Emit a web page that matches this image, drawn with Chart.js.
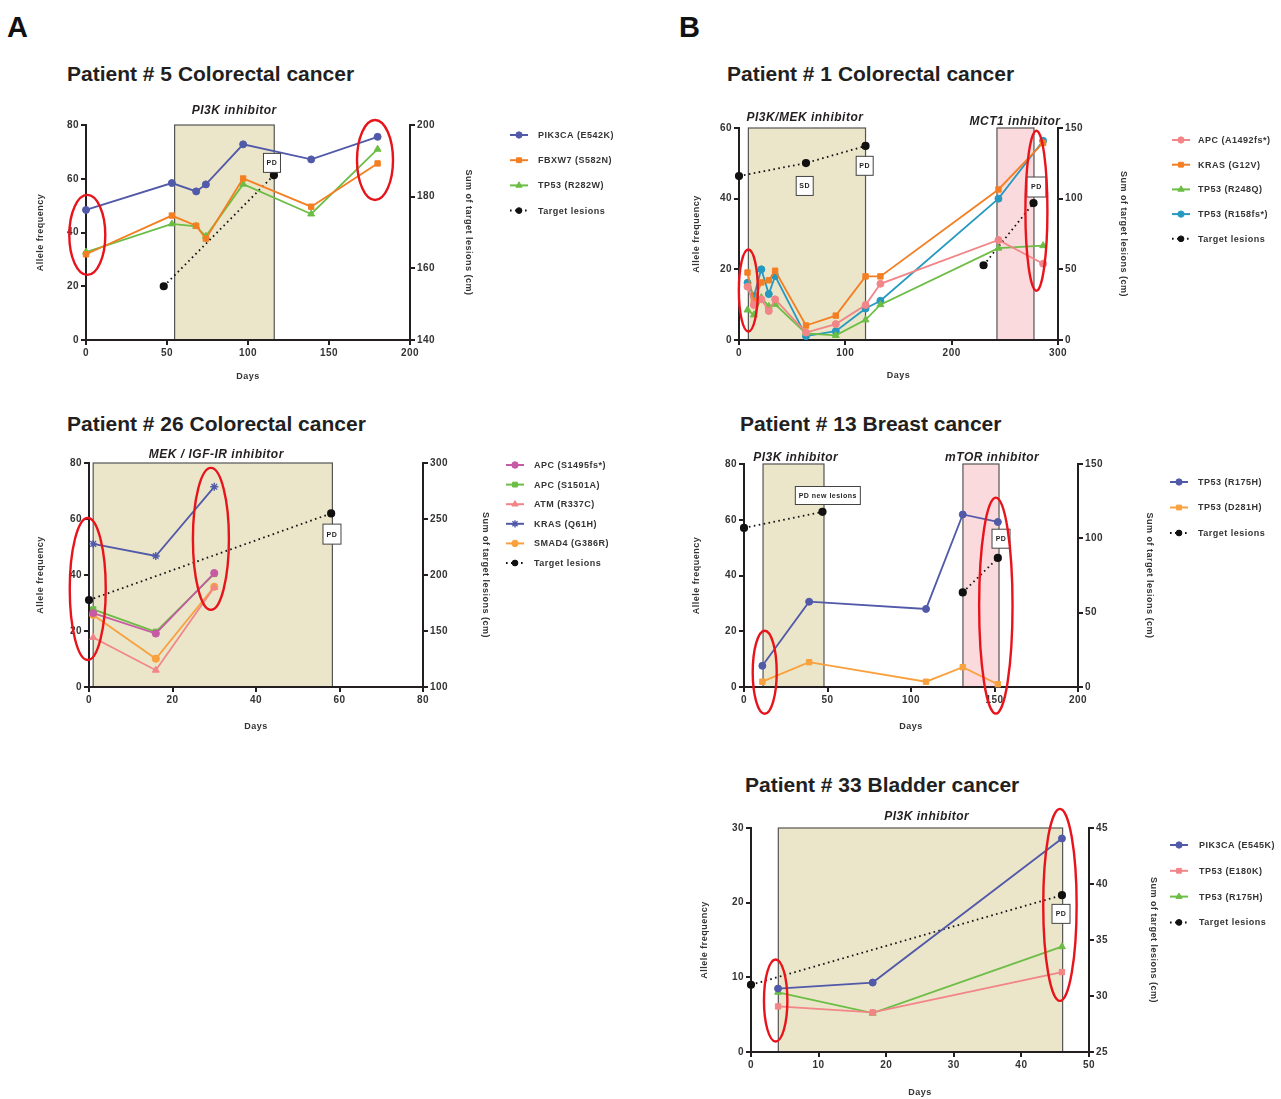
<!DOCTYPE html>
<html><head><meta charset="utf-8">
<script src="https://cdn.jsdelivr.net/npm/chart.js@4.4.1/dist/chart.umd.min.js"></script>
<style>
html,body{margin:0;padding:0;background:#fff;}
#page{position:relative;width:1281px;height:1099px;overflow:hidden;font-family:"Liberation Sans",Arial,Helvetica,sans-serif;}
.panel{position:absolute;font-weight:bold;font-size:29px;line-height:30px;color:#111;}
.title{position:absolute;font-weight:bold;font-size:21px;line-height:20px;color:#231f20;white-space:nowrap;}
canvas{position:absolute;}
</style></head><body><div id="page">
<div class="panel" style="left:7px;top:12px">A</div>
<div class="panel" style="left:679px;top:12px">B</div>
<div class="title" style="left:67px;top:64px">Patient # 5 Colorectal cancer</div>
<div class="title" style="left:67px;top:414px">Patient # 26 Colorectal cancer</div>
<div class="title" style="left:727px;top:64px">Patient # 1 Colorectal cancer</div>
<div class="title" style="left:740px;top:414px">Patient # 13 Breast cancer</div>
<div class="title" style="left:745px;top:775px">Patient # 33 Bladder cancer</div>
</div>
<script>
// ---------------- DATA ----------------
// Patient 5
const p5Days = [0, 53, 68, 74, 97, 139, 180];
const p5PIK3CA = [48.4, 58.4, 55.3, 57.9, 72.8, 67.2, 75.6];
const p5FBXW7 = [31.9, 46.3, 42.5, 37.7, 60.1, 49.6, 65.7];
const p5TP53 = [32.7, 43.2, 42.3, 38.6, 58.0, 46.9, 71.0];
const p5TargetDays = [48, 116];
const p5Target = [155, 186];
const p5Labels = ['PIK3CA (E542K)', 'FBXW7 (S582N)', 'TP53 (R282W)', 'Target lesions'];
const p5XTicks = [0, 50, 100, 150, 200];
const p5YTicks = [0, 20, 40, 60, 80];
const p5Y2Ticks = [140, 160, 180, 200];

// Patient 26
const p26Days = [1, 16, 30];
const p26APC1495 = [26.4, 19.1, 40.7];
const p26APC1501 = [27.7, 19.7, 40.4];
const p26ATM = [17.7, 6.0, 35.6];
const p26KRAS = [51.1, 46.8, 71.5];
const p26SMAD4 = [25.7, 10.1, 35.8];
const p26TargetDays = [0, 58];
const p26Target = [177.6, 255];
const p26Labels = ['APC (S1495fs*)', 'APC (S1501A)', 'ATM (R337C)', 'KRAS (Q61H)', 'SMAD4 (G386R)', 'Target lesions'];
const p26XTicks = [0, 20, 40, 60, 80];
const p26YTicks = [0, 20, 40, 60, 80];
const p26Y2Ticks = [100, 150, 200, 250, 300];

// Patient 1
const p1Days = [8, 14, 21, 28, 34, 63, 91, 119, 133, 244, 286];
const p1APC = [15.1, 9.9, 11.5, 8.2, 11.5, 2.1, 4.5, 9.9, 15.9, 28.3, 21.6];
const p1KRAS = [19.1, 10.9, 16.3, 16.9, 19.6, 4.1, 6.9, 18.0, 18.0, 42.6, 55.8];
const p1TP53a = [8.5, 7.1, 12.0, 9.5, 10.1, 1.9, 1.3, 5.7, 10.0, 26.0, 26.7];
const p1TP53b = [16.2, 12.4, 20.0, 13.0, 18.1, 1.1, 2.5, 8.9, 11.1, 40.0, 56.4];
const p1TargetDays = [0, 63, 119, 175, 230, 277];
const p1Target = [116, 125.2, 137.3, null, 52.9, 96.9];
const p1Labels = ['APC (A1492fs*)', 'KRAS (G12V)', 'TP53 (R248Q)', 'TP53 (R158fs*)', 'Target lesions'];
const p1XTicks = [0, 100, 200, 300];
const p1YTicks = [0, 20, 40, 60];
const p1Y2Ticks = [0, 50, 100, 150];

// Patient 13
const p13Days = [11, 39, 109, 131, 152];
const p13R175H = [7.6, 30.6, 28.0, 61.9, 59.2];
const p13D281H = [1.9, 8.9, 1.9, 7.1, 1.0];
const p13TargetDays = [0, 47, 90, 131, 152];
const p13Target = [107, 117.8, null, 63.6, 86.8];
const p13Labels = ['TP53 (R175H)', 'TP53 (D281H)', 'Target lesions'];
const p13XTicks = [0, 50, 100, 150, 200];
const p13YTicks = [0, 20, 40, 60, 80];
const p13Y2Ticks = [0, 50, 100, 150];

// Patient 33
const p33Days = [4, 18, 46];
const p33PIK3CA = [8.5, 9.3, 28.6];
const p33E180K = [6.1, 5.3, 10.7];
const p33R175H = [8.0, 5.2, 14.1];
const p33TargetDays = [0, 46];
const p33Target = [31.0, 39.0];
const p33Labels = ['PIK3CA (E545K)', 'TP53 (E180K)', 'TP53 (R175H)', 'Target lesions'];
const p33XTicks = [0, 10, 20, 30, 40, 50];
const p33YTicks = [0, 10, 20, 30];
const p33Y2Ticks = [25, 30, 35, 40, 45];

// ---------------- STYLE / HELPERS ----------------
const FONT = '"Liberation Sans", Arial, Helvetica, sans-serif';
Chart.defaults.font.family = FONT;
Chart.defaults.color = '#333';
const BEIGE = '#ebe5c9', PINK = '#fbdadd';
const C = {blue:'#5159a9', orange:'#f47f22', lorange:'#f8a13e', green:'#6cbd45', pink:'#f28587',
           magenta:'#c75aa5', teal:'#2599bf', black:'#111'};

function series(label, days, vals, color, style, r) {
  return {label, data: days.map((d, i) => ({x: d, y: vals[i]})), borderColor: color, backgroundColor: color,
    pointStyle: style, pointRadius: r, pointHoverRadius: r, pointBorderWidth: style === 'star' ? 1.4 : 1,
    borderWidth: 1.8, yAxisID: 'y', clip: false, tension: 0};
}
function target(days, vals) {
  return {label: 'Target lesions', data: days.map((d, i) => ({x: d, y: vals[i]})), borderColor: C.black,
    backgroundColor: C.black, borderDash: [1.6, 3.4], borderWidth: 1.8, pointStyle: 'circle', pointRadius: 3.2,
    pointHoverRadius: 3.2, yAxisID: 'y1', spanGaps: false, clip: false};
}

const figPlugin = {
  id: 'fig',
  beforeDraw(chart, args, o) {
    const {ctx, chartArea: a, scales: {x}} = chart;
    ctx.letterSpacing = '0.5px';
    ctx.save();
    (o.shades || []).forEach(s => {
      const x1 = x.getPixelForValue(s.from), x2 = x.getPixelForValue(s.to);
      ctx.fillStyle = s.color;
      ctx.fillRect(x1, a.top, x2 - x1, a.bottom - a.top);
      ctx.strokeStyle = '#555'; ctx.lineWidth = 1.2;
      ctx.strokeRect(x1, a.top, x2 - x1, a.bottom - a.top);
    });
    ctx.fillStyle = '#231f20';
    ctx.font = 'italic bold 12px ' + FONT;
    ctx.textAlign = 'center'; ctx.textBaseline = 'middle';
    (o.labels || []).forEach(l => ctx.fillText(l.text, x.getPixelForValue(l.day), a.top - l.up));
    ctx.restore();
  },
  afterDraw(chart, args, o) {
    const {ctx, scales: {x, y}} = chart;
    const g = o.g;
    ctx.save();
    ctx.letterSpacing = '0.5px';
    (o.boxes || []).forEach(b => {
      const cx = x.getPixelForValue(b.day), cy = y.getPixelForValue(b.val);
      ctx.fillStyle = '#fff'; ctx.strokeStyle = '#444'; ctx.lineWidth = 1;
      ctx.fillRect(cx - b.w / 2, cy - b.h / 2, b.w, b.h);
      ctx.strokeRect(cx - b.w / 2, cy - b.h / 2, b.w, b.h);
      ctx.fillStyle = '#231f20'; ctx.font = 'bold 7px ' + FONT;
      ctx.textAlign = 'center'; ctx.textBaseline = 'middle';
      ctx.fillText(b.text, cx, cy + 0.5);
    });
    ctx.strokeStyle = '#e8141c'; ctx.lineWidth = 2.4;
    (o.rings || []).forEach(r => {
      ctx.beginPath();
      ctx.ellipse(x.getPixelForValue(r.day), y.getPixelForValue(r.val), r.rx, r.ry, 0, 0, Math.PI * 2);
      ctx.stroke();
    });
    const lg = o.legend;
    chart.data.datasets.forEach((ds, i) => {
      const yy = lg.y + i * lg.dy - g.cTop, x0 = lg.x - g.cLeft;
      ctx.strokeStyle = ds.borderColor; ctx.fillStyle = ds.backgroundColor;
      ctx.lineWidth = 2; ctx.setLineDash(ds.borderDash ? [1.6, 3.4] : []);
      ctx.beginPath(); ctx.moveTo(x0, yy); ctx.lineTo(x0 + 18, yy); ctx.stroke();
      ctx.setLineDash([]);
      ctx.lineWidth = ds.pointBorderWidth || 1;
      Chart.helpers.drawPoint(ctx, {pointStyle: ds.pointStyle, radius: ds.pointRadius * 0.9, rotation: 0,
        borderWidth: ds.pointBorderWidth || 1}, x0 + 9, yy);
      ctx.fillStyle = '#333'; ctx.font = 'bold 9px ' + FONT;
      ctx.textAlign = 'left'; ctx.textBaseline = 'middle';
      ctx.fillText(ds.label, lg.tx - g.cLeft, yy + 0.5);
    });
    ctx.restore();
  }
};

function build(g, ax, datasets, extra) {
  const cv = document.createElement('canvas');
  const W = g.cRight - g.cLeft, H = g.cBottom - g.cTop;
  cv.width = W; cv.height = H;
  cv.style.left = g.cLeft + 'px'; cv.style.top = g.cTop + 'px';
  cv.style.width = W + 'px'; cv.style.height = H + 'px';
  document.getElementById('page').appendChild(cv);
  const lh = 9 * 1.2;
  const leftW = g.L - g.cLeft;
  const rightW = g.RT - g.R + lh / 2 + 3;
  const xH = 50;
  const tickFont = {size: 10, weight: 'bold', family: FONT};
  const titleFont = {size: 9, weight: 'bold', family: FONT, lineHeight: 1.2};
  const common = (ticks) => ({
    type: 'linear',
    afterBuildTicks: s => { s.ticks = ticks.map(v => ({value: v})); },
    border: {display: true, color: '#231f20', width: 2},
    grid: {drawOnChartArea: false, drawTicks: true, tickLength: 5, color: '#231f20', lineWidth: 2},
    ticks: {font: tickFont, color: '#333', padding: 2, autoSkip: false, maxRotation: 0}
  });
  new Chart(cv, {
    type: 'line',
    data: {datasets},
    options: {
      responsive: false, animation: false, devicePixelRatio: 1,
      events: [],
      layout: {padding: {left: 0, top: g.T - g.cTop, right: g.cRight - (g.R + rightW), bottom: g.cBottom - (g.B + xH)}},
      plugins: {legend: {display: false}, tooltip: {enabled: false}, fig: Object.assign({g}, extra)},
      scales: {
        x: Object.assign(common(ax.x), {min: ax.x[0], max: ax.x[ax.x.length - 1], position: 'bottom',
          afterFit: s => { s.height = xH; },
          title: {display: true, text: 'Days', font: titleFont, color: '#333',
            padding: {top: 0, bottom: g.B + xH - g.DT - lh / 2}}}),
        y: Object.assign(common(ax.y), {min: ax.y[0], max: ax.y[ax.y.length - 1], position: 'left',
          afterFit: s => { s.width = leftW; },
          title: {display: true, text: 'Allele frequency', font: titleFont, color: '#333',
            padding: {top: g.LT - g.cLeft - lh / 2, bottom: 0}}}),
        y1: Object.assign(common(ax.y2), {min: ax.y2[0], max: ax.y2[ax.y2.length - 1], position: 'right',
          afterFit: s => { s.width = rightW; },
          title: {display: true, text: 'Sum of target lesions (cm)', font: titleFont, color: '#333',
            padding: {top: 3, bottom: 0}}})
      }
    },
    plugins: [figPlugin]
  });
}

// ---------------- CHARTS ----------------
build({L: 86, R: 410, T: 125, B: 340, LT: 41, RT: 468, DT: 377, cLeft: 26, cRight: 660, cTop: 80, cBottom: 395},
  {x: p5XTicks, y: p5YTicks, y2: p5Y2Ticks},
  [series(p5Labels[0], p5Days, p5PIK3CA, C.blue, 'circle', 3.5),
   series(p5Labels[1], p5Days, p5FBXW7, C.orange, 'rect', 3.8),
   series(p5Labels[2], p5Days, p5TP53, C.green, 'triangle', 4),
   target(p5TargetDays, p5Target)],
  {shades: [{from: 54.7, to: 116.2, color: BEIGE}],
   labels: [{text: 'PI3K inhibitor', day: 91.5, up: 14}],
   boxes: [{day: 114.8, val: 65.9, w: 17, h: 19, text: 'PD'}],
   rings: [{day: 0.8, val: 39.1, rx: 18, ry: 40}, {day: 178.4, val: 67.0, rx: 18, ry: 40}],
   legend: {x: 510, y: 135, dy: 25.2, tx: 538}});

build({L: 89, R: 423, T: 463, B: 687, LT: 41, RT: 485, DT: 727, cLeft: 29, cRight: 660, cTop: 418, cBottom: 742},
  {x: p26XTicks, y: p26YTicks, y2: p26Y2Ticks},
  [series(p26Labels[0], p26Days, p26APC1495, C.magenta, 'circle', 3.6),
   series(p26Labels[1], p26Days, p26APC1501, C.green, 'rect', 3.8),
   series(p26Labels[2], p26Days, p26ATM, C.pink, 'triangle', 4),
   series(p26Labels[3], p26Days, p26KRAS, C.blue, 'star', 4),
   series(p26Labels[4], p26Days, p26SMAD4, C.lorange, 'circle', 3.6),
   target(p26TargetDays, p26Target)],
  {shades: [{from: 1, to: 58.3, color: BEIGE}],
   labels: [{text: 'MEK / IGF-IR inhibitor', day: 30.5, up: 8}],
   boxes: [{day: 58.2, val: 54.6, w: 18, h: 20, text: 'PD'}],
   rings: [{day: -0.3, val: 35.0, rx: 18, ry: 71}, {day: 29.2, val: 52.9, rx: 18, ry: 71}],
   legend: {x: 506, y: 465, dy: 19.6, tx: 534}});

build({L: 739, R: 1058, T: 128, B: 340, LT: 697, RT: 1123, DT: 376, cLeft: 679, cRight: 1281, cTop: 83, cBottom: 395},
  {x: p1XTicks, y: p1YTicks, y2: p1Y2Ticks},
  [series(p1Labels[0], p1Days, p1APC, C.pink, 'circle', 3.5),
   series(p1Labels[1], p1Days, p1KRAS, C.orange, 'rect', 3.8),
   series(p1Labels[2], p1Days, p1TP53a, C.green, 'triangle', 4),
   series(p1Labels[3], p1Days, p1TP53b, C.teal, 'circle', 3.5),
   target(p1TargetDays, p1Target)],
  {shades: [{from: 8.8, to: 119, color: BEIGE}, {from: 242.6, to: 277.4, color: PINK}],
   labels: [{text: 'PI3K/MEK inhibitor', day: 62, up: 10}, {text: 'MCT1 inhibitor', day: 259.6, up: 6}],
   boxes: [{day: 61.8, val: 43.6, w: 17, h: 19, text: 'SD'}, {day: 118.2, val: 49.3, w: 17, h: 19, text: 'PD'},
           {day: 279.7, val: 43.3, w: 19, h: 20, text: 'PD'}],
   rings: [{day: 8.8, val: 14.0, rx: 9.5, ry: 41}, {day: 279.7, val: 36.6, rx: 11, ry: 80}],
   legend: {x: 1172, y: 140, dy: 24.7, tx: 1198}});

build({L: 744, R: 1078, T: 464, B: 687, LT: 697, RT: 1149, DT: 727, cLeft: 684, cRight: 1281, cTop: 419, cBottom: 742},
  {x: p13XTicks, y: p13YTicks, y2: p13Y2Ticks},
  [series(p13Labels[0], p13Days, p13R175H, C.blue, 'circle', 3.5),
   series(p13Labels[1], p13Days, p13D281H, C.lorange, 'rect', 3.8),
   target(p13TargetDays, p13Target)],
  {shades: [{from: 11.4, to: 47.9, color: BEIGE}, {from: 131.1, to: 152.7, color: PINK}],
   labels: [{text: 'PI3K inhibitor', day: 31, up: 6}, {text: 'mTOR inhibitor', day: 148.6, up: 6}],
   boxes: [{day: 50.2, val: 68.7, w: 65, h: 18, text: 'PD new lesions'}, {day: 153.9, val: 53.2, w: 18, h: 19, text: 'PD'}],
   rings: [{day: 12.4, val: 5.3, rx: 12, ry: 41.5}, {day: 150.8, val: 29.2, rx: 16.7, ry: 108}],
   legend: {x: 1170, y: 482, dy: 25.5, tx: 1198}});

build({L: 751, R: 1089, T: 828, B: 1052, LT: 705, RT: 1153, DT: 1093, cLeft: 691, cRight: 1281, cTop: 783, cBottom: 1099},
  {x: p33XTicks, y: p33YTicks, y2: p33Y2Ticks},
  [series(p33Labels[0], p33Days, p33PIK3CA, C.blue, 'circle', 3.5),
   series(p33Labels[1], p33Days, p33E180K, C.pink, 'rect', 3.8),
   series(p33Labels[2], p33Days, p33R175H, C.green, 'triangle', 4),
   target(p33TargetDays, p33Target)],
  {shades: [{from: 4.04, to: 46.1, color: BEIGE}],
   labels: [{text: 'PI3K inhibitor', day: 26, up: 11}],
   boxes: [{day: 45.86, val: 18.5, w: 18, h: 19, text: 'PD'}],
   rings: [{day: 3.65, val: 6.9, rx: 11.7, ry: 41}, {day: 45.7, val: 19.7, rx: 16.7, ry: 96}],
   legend: {x: 1170, y: 845, dy: 25.8, tx: 1199}});
</script>
</body></html>
